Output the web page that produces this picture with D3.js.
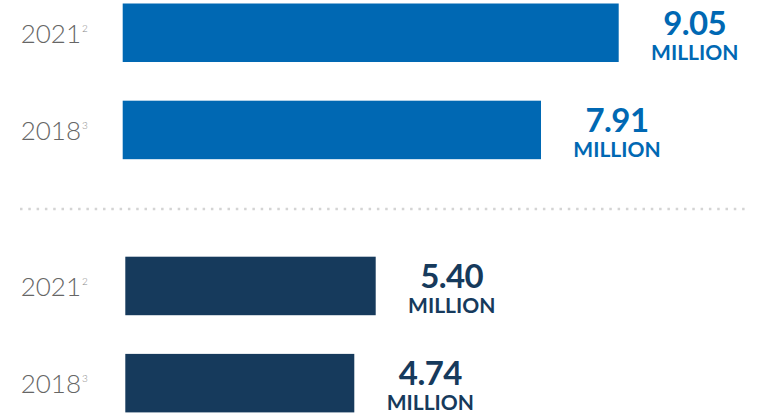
<!DOCTYPE html>
<html>
<head>
<meta charset="utf-8">
<script src="https://cdn.jsdelivr.net/npm/d3@7"></script>
<style>
  html, body { margin: 0; padding: 0; background: #ffffff; }
  svg { display: block; }
</style>
</head>
<body>
<svg id="chart" width="758" height="414"></svg>
<script>
// ---- data ----
const years = ["2021", "2018"];
const footnotes = ["2", "3"];
const topValues = [9.05, 7.91];
const bottomValues = [5.40, 4.74];
const valueUnit = "MILLION";

// ---- styles ----
const topColor = "#0068b3";
const bottomColor = "#163a5c";
const yearColor = "#666666";
const noteColor = "#8a8a8a";

const svg = d3.select("#chart");

function drawGroup(values, color, yRange, xStart, xDomain, xWidth) {
  const rows = years.map((y, i) => ({ year: y, note: footnotes[i], value: values[i] }));
  const y = d3.scaleBand().domain(years).range(yRange).paddingInner(0.398).paddingOuter(0);
  const x = d3.scaleLinear().domain(xDomain).range([xStart, xStart + xWidth]);

  const g = svg.append("g");

  g.selectAll("rect").data(rows).join("rect")
    .attr("x", x(xDomain[0]))
    .attr("y", d => y(d.year))
    .attr("width", d => x(d.value) - x(xDomain[0]))
    .attr("height", y.bandwidth())
    .attr("fill", color);

  // year labels with superscript footnote
  g.selectAll("text.year").data(rows).join("text")
    .attr("class", "year")
    .attr("x", 81)
    .attr("y", d => y(d.year) + y.bandwidth() / 2 + 10)
    .attr("text-anchor", "end")
    .attr("font-family", "Lato")
    .attr("font-weight", 300)
    .attr("font-size", 26)
    .attr("fill", yearColor)
    .text(d => d.year);

  g.selectAll("text.note").data(rows).join("text")
    .attr("class", "note")
    .attr("x", 82)
    .attr("y", d => y(d.year) + y.bandwidth() / 2 - 1)
    .attr("font-family", "Lato")
    .attr("font-weight", 300)
    .attr("font-size", 10)
    .attr("fill", noteColor)
    .text(d => d.note);

  // value labels
  g.selectAll("text.val").data(rows).join("text")
    .attr("class", "val")
    .attr("x", d => x(d.value) + 76)
    .attr("y", d => y(d.year) + 31)
    .attr("text-anchor", "middle")
    .attr("font-family", "Lato")
    .attr("font-weight", 700)
    .attr("font-size", 33)
    .attr("letter-spacing", -0.6)
    .attr("fill", color)
    .text(d => d.value.toFixed(2));

  g.selectAll("text.unit").data(rows).join("text")
    .attr("class", "unit")
    .attr("x", d => x(d.value) + 76)
    .attr("y", d => y(d.year) + 56)
    .attr("text-anchor", "middle")
    .attr("font-family", "Lato")
    .attr("font-weight", 700)
    .attr("font-size", 21)
    .attr("fill", color)
    .text(valueUnit);
}

// top group (blue) and bottom group (navy), each with its own scale as in the source graphic
drawGroup(topValues, topColor, [3.5, 159.2], 122.7, [1.773, 9.05], 496);
drawGroup(bottomValues, bottomColor, [256.7, 412.4], 125.3, [-2.32, 5.40], 250.4);

// dotted separator
svg.append("line")
  .attr("x1", 20).attr("x2", 746)
  .attr("y1", 209).attr("y2", 209)
  .attr("stroke", "#d4d4d4")
  .attr("stroke-width", 2.5)
  .attr("stroke-dasharray", "2.5 5.8");
</script>
</body>
</html>
